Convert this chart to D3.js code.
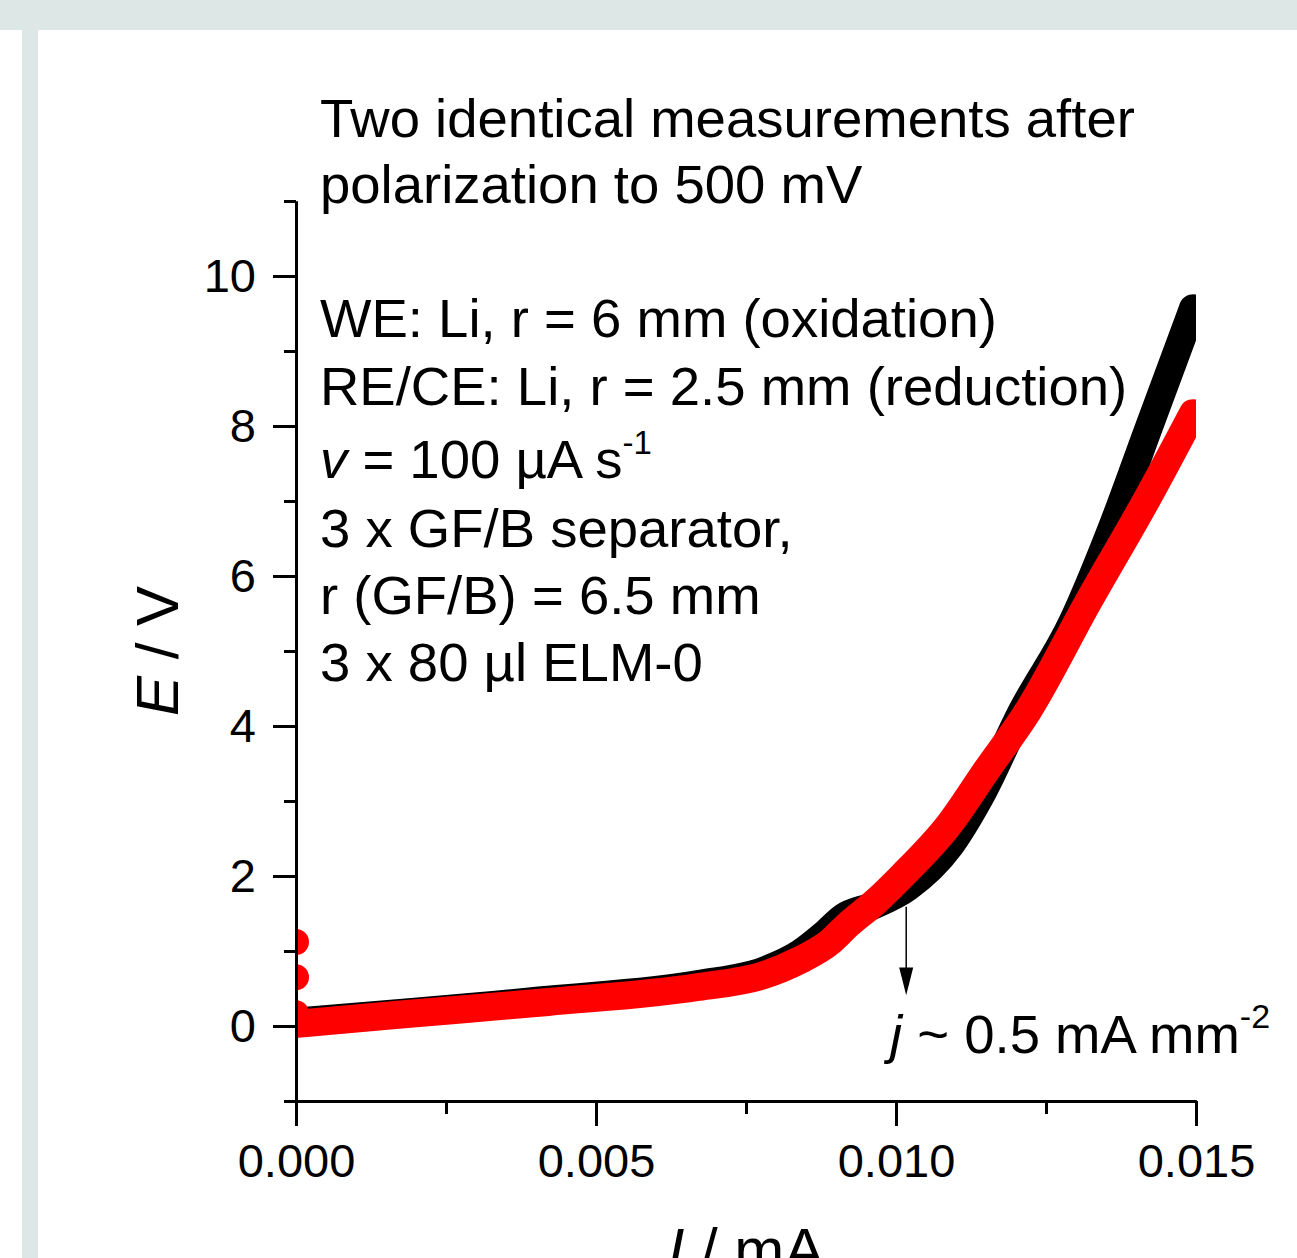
<!DOCTYPE html>
<html>
<head>
<meta charset="utf-8">
<script src="https://cdn.jsdelivr.net/npm/d3@7"></script>
<style>
  body { margin: 0; background: #fff; }
  svg { display: block; font-family: "Liberation Sans", Arial, sans-serif; }
</style>
</head>
<body>
<div id="chart"></div>
<script>
// Red run (drawn on top) - current in mA, potential in V
var redI = [0, 0, 0, 0.00002, 0.0017, 0.0042, 0.0067, 0.0078, 0.0084, 0.0089, 0.0092, 0.00965, 0.0101, 0.0109, 0.0115, 0.0122, 0.0132, 0.0142, 0.01495];
var redE = [1.12, 0.65, 0.17, 0.03, 0.15, 0.32, 0.52, 0.68, 0.88, 1.12, 1.35, 1.65, 2.0, 2.7, 3.4, 4.2, 5.65, 7.05, 8.17];

// Black run (drawn underneath)
var blackI = [0.00002, 0.0042, 0.0067, 0.0078, 0.0084, 0.0088, 0.00912, 0.0096, 0.0102, 0.0109, 0.0114, 0.0121, 0.01293, 0.01363, 0.0142, 0.01495];
var blackE = [0.06, 0.35, 0.56, 0.74, 0.97, 1.22, 1.45, 1.6, 1.85, 2.4, 3.05, 4.2, 5.37, 6.71, 7.95, 9.57];

// Ticks
var xMajor = [0, 0.005, 0.010, 0.015];
var xMinor = [0.0025, 0.0075, 0.0125];
var yMajor = [0, 2, 4, 6, 8, 10];
var yMinor = [-1, 1, 3, 5, 7, 9, 11];

// Text
var noteTop = ["Two identical measurements after", "polarization to 500 mV"];
var noteConditions = ["WE: Li, r = 6 mm (oxidation)", "RE/CE: Li, r = 2.5 mm (reduction)", "v", "3 x GF/B separator,", "r (GF/B) = 6.5 mm", "3 x 80 µl ELM-0"];

var width = 1297, height = 1258;
var plot = { left: 296, right: 1196, top: 201, bottom: 1101 };

var svg = d3.select("#chart").append("svg")
    .attr("width", width)
    .attr("height", height);

// page frame (grey band on top and left)
svg.append("rect").attr("x", 0).attr("y", 0).attr("width", width).attr("height", 30).attr("fill", "#dde8e6");
svg.append("rect").attr("x", 22).attr("y", 30).attr("width", 16).attr("height", height - 30).attr("fill", "#dde8e6");

var x = d3.scaleLinear().domain([0, 0.015]).range([plot.left, plot.right]);
var y = d3.scaleLinear().domain([-1, 11]).range([plot.bottom, plot.top]);

svg.append("clipPath").attr("id", "clip")
  .append("rect")
    .attr("x", plot.left).attr("y", plot.top)
    .attr("width", plot.right - plot.left).attr("height", plot.bottom - plot.top);

var red = redI.map((d, i) => ({ I: d, E: redE[i] }));
var black = blackI.map((d, i) => ({ I: d, E: blackE[i] }));

var line = d3.line().x(d => x(d.I)).y(d => y(d.E)).curve(d3.curveMonotoneX);
var R = 14;

var g = svg.append("g").attr("clip-path", "url(#clip)");

function drawSeries(data, color) {
  // dense scatter looks like a thick band: draw as a fat round line + dots
  g.append("path")
    .datum(data.filter(d => d.I > 0))
    .attr("d", line)
    .attr("fill", "none")
    .attr("stroke", color)
    .attr("stroke-width", 2 * R)
    .attr("stroke-linecap", "round")
    .attr("stroke-linejoin", "round");
  g.selectAll(null)
    .data(data)
    .enter().append("circle")
    .attr("cx", d => x(d.I))
    .attr("cy", d => y(d.E))
    .attr("r", R - 1)
    .attr("fill", color);
}
drawSeries(black, "#000");
drawSeries(red, "#ff0000");

// axes
function styleAxis(sel) {
  sel.select(".domain").attr("stroke", "#000").attr("stroke-width", 3);
  sel.selectAll(".tick line").attr("stroke", "#000").attr("stroke-width", 3);
  sel.selectAll("text").attr("font-size", 47).attr("fill", "#000").attr("font-family", "Liberation Sans, Arial, sans-serif");
}

svg.append("g")
    .attr("transform", "translate(" + plot.left + ",0)")
    .call(d3.axisLeft(y).tickValues(yMinor).tickSize(12).tickSizeOuter(0).tickFormat(""))
    .call(styleAxis);
svg.append("g")
    .attr("transform", "translate(" + plot.left + ",0)")
    .call(d3.axisLeft(y).tickValues(yMajor).tickSize(23).tickSizeOuter(0).tickPadding(17).tickFormat(d3.format("d")))
    .call(styleAxis);

svg.append("g")
    .attr("transform", "translate(0," + plot.bottom + ")")
    .call(d3.axisBottom(x).tickValues(xMinor).tickSize(13).tickSizeOuter(0).tickFormat(""))
    .call(styleAxis);
svg.append("g")
    .attr("transform", "translate(0," + plot.bottom + ")")
    .call(d3.axisBottom(x).tickValues(xMajor).tickSize(25).tickSizeOuter(0).tickPadding(18).tickFormat(d3.format(".3f")))
    .call(styleAxis);

// axis titles
var yTitle = svg.append("text")
    .attr("transform", "translate(178," + (plot.top + plot.bottom) / 2 + ") rotate(-90)")
    .attr("text-anchor", "middle")
    .attr("font-size", 60);
yTitle.append("tspan").attr("font-style", "italic").text("E");
yTitle.append("tspan").text(" / V");

var xTitle = svg.append("text")
    .attr("x", (plot.left + plot.right) / 2)
    .attr("y", 1270)
    .attr("text-anchor", "middle")
    .attr("font-size", 60);
xTitle.append("tspan").attr("font-style", "italic").text("I");
xTitle.append("tspan").text(" / mA");

// notes
var noteX = 320;
var noteSize = 54.5;
svg.selectAll(".note-top")
  .data(noteTop)
  .enter().append("text")
    .attr("class", "note-top")
    .attr("x", noteX)
    .attr("y", (d, i) => 137 + i * 66)
    .attr("font-size", noteSize)
    .text(d => d);

var condY = [337, 405, 478, 547, 614, 681];
noteConditions.forEach(function(t, i) {
  var txt = svg.append("text")
      .attr("x", noteX)
      .attr("y", condY[i])
      .attr("font-size", noteSize);
  if (t === "v") {
    txt.append("tspan").attr("font-style", "italic").text("v");
    txt.append("tspan").text(" = 100 µA s");
    txt.append("tspan").attr("font-size", 33).attr("dy", -24).text("-1");
  } else {
    txt.text(t);
  }
});

// current density arrow
var arrowI = 0.01017;
svg.append("line")
    .attr("x1", x(arrowI)).attr("x2", x(arrowI))
    .attr("y1", y(1.59)).attr("y2", y(0.75))
    .attr("stroke", "#000").attr("stroke-width", 1.5);
svg.append("path")
    .attr("d", "M" + (x(arrowI) - 7) + "," + y(0.78) + "L" + (x(arrowI) + 7) + "," + y(0.78) + "L" + x(arrowI) + "," + y(0.41) + "Z")
    .attr("fill", "#000");

var jText = svg.append("text")
    .attr("x", 890)
    .attr("y", 1053)
    .attr("font-size", noteSize);
jText.append("tspan").attr("font-style", "italic").text("j");
jText.append("tspan").text(" ~ 0.5 mA mm");
jText.append("tspan").attr("font-size", 34).attr("dy", -25).text("-2");
</script>
</body>
</html>
